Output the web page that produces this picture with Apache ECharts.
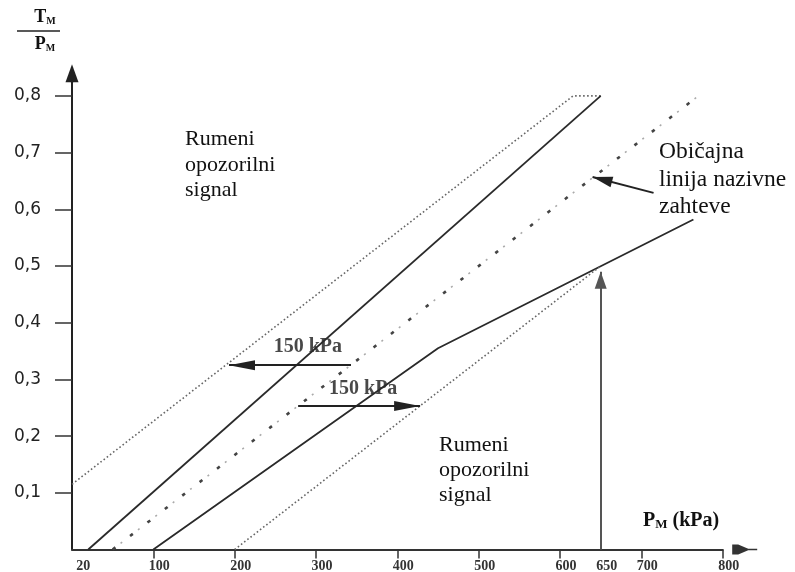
<!DOCTYPE html>
<html>
<head>
<meta charset="utf-8">
<script src="https://cdn.jsdelivr.net/npm/echarts@6/dist/echarts.min.js"></script>
<style>
  html, body { margin: 0; padding: 0; background: #fff; }
  #chart { width: 795px; height: 572px; }
</style>
</head>
<body>
<div id="chart"></div>
<script>
// Pressure axis P_M (kPa)
const xTickValues = [100, 200, 300, 400, 500, 600, 700, 800];
const xLabelValues = [20, 100, 200, 300, 400, 500, 600, 650, 700, 800];
// Ratio axis T_M / P_M
const yTickValues = [0.1, 0.2, 0.3, 0.4, 0.5, 0.6, 0.7, 0.8];
const yLabelValues = [0.1, 0.2, 0.3, 0.4, 0.5, 0.6, 0.7, 0.8];

// Boundary lines [P_M, T_M/P_M]
const upperDotted = [[0, 0.115], [616, 0.8], [650, 0.8]];
const upperSolid = [[20, 0], [650, 0.8]];
const nominalLine = [[50, 0], [770, 0.8]];
const lowerSolid = [[100, 0], [450, 0.355], [764, 0.582]];
const lowerDotted = [[200, 0], [650, 0.5]];

// Arrows: [tail, head]
const shiftLeftArrow = [[343, 0.325], [193, 0.325]];
const shiftRightArrow = [[278, 0.253], [428, 0.253]];
const ratedArrow = [[650, 0], [650, 0.49]];
const calloutArrow = [[715, 0.629], [640, 0.657]];

// "150 kPa" captions
const shiftLabelPoints = [[290, 0.358], [358, 0.283]];
const shiftText = '150 kPa';

const serif = '"Liberation Serif", "Times New Roman", serif';
const ink = '#222';

const chart = echarts.init(document.getElementById('chart'), null, { renderer: 'canvas' });

// Tail has no symbol; head is a triangle whose tip sits on the end coordinate
function arrowPair(pair, size) {
  return [
    { coord: pair[0], symbol: 'none' },
    { coord: pair[1], symbol: 'triangle', symbolSize: size, symbolOffset: [0, size[1] / 2] }
  ];
}

chart.setOption({
  animation: false,
  backgroundColor: '#fff',
  grid: {
    left: 72, right: 72.3, top: 82.3, bottom: 22.5,
    containLabel: false,
    outerBoundsMode: 'none'
  },
  xAxis: {
    type: 'value',
    min: 0,
    max: 800,
    splitLine: { show: false },
    axisLine: {
      show: true,
      onZero: false,
      lineStyle: { color: '#333', width: 2 },
      symbol: ['none', 'path://M4.2,0 L5.8,0 L5.8,9 L10,19 L10,25 L0,25 L0,19 L4.2,9 Z'],
      symbolSize: [10, 25],
      symbolOffset: [0, 22]
    },
    axisTick: {
      show: true,
      customValues: xTickValues,
      length: 9,
      lineStyle: { color: '#333', width: 1.5 }
    },
    axisLabel: {
      show: true,
      customValues: xLabelValues,
      margin: 10,
      padding: [0, 0, 0, 12],
      fontFamily: serif,
      fontWeight: 'bold',
      fontSize: 14,
      color: '#333',
      formatter: function (v) { return v === 20 ? '{s|20}' : String(v); },
      rich: {
        s: { fontFamily: serif, fontWeight: 'bold', fontSize: 14, color: '#333', padding: [0, 22, 0, 0] }
      }
    }
  },
  yAxis: {
    type: 'value',
    min: 0,
    max: 0.824,
    splitLine: { show: false },
    axisLine: {
      show: true,
      onZero: false,
      lineStyle: { color: '#222', width: 2 },
      symbol: ['none', 'triangle'],
      symbolSize: [13, 18],
      symbolOffset: [0, 9]
    },
    axisTick: {
      show: true,
      customValues: yTickValues,
      length: 17,
      lineStyle: { color: '#333', width: 1.5 }
    },
    axisLabel: {
      show: true,
      customValues: yLabelValues,
      margin: 31,
      padding: [0, 0, 40, 0],
      fontFamily: '"DejaVu Sans", sans-serif',
      fontSize: 17,
      color: ink,
      formatter: function (v) { return v.toFixed(1).replace('.', ','); }
    }
  },
  series: [
    {
      name: 'upperDotted', type: 'line', data: upperDotted, showSymbol: false, silent: true,
      lineStyle: { color: '#666', width: 1.6, type: [1.6, 2.4] }
    },
    {
      name: 'upperSolid', type: 'line', data: upperSolid, showSymbol: false, silent: true,
      lineStyle: { color: '#2a2a2a', width: 1.8 }
    },
    {
      name: 'nominalDark', type: 'line', data: nominalLine, showSymbol: false, silent: true,
      lineStyle: { color: '#444', width: 2.6, type: [3.5, 18.5] }
    },
    {
      name: 'nominalLight', type: 'line', data: nominalLine, showSymbol: false, silent: true,
      lineStyle: { color: '#aaa', width: 1.6, type: [2, 20], dashOffset: -10 }
    },
    {
      name: 'lowerSolid', type: 'line', data: lowerSolid, showSymbol: false, silent: true,
      lineStyle: { color: '#2a2a2a', width: 1.8 }
    },
    {
      name: 'lowerDotted', type: 'line', data: lowerDotted, showSymbol: false, silent: true,
      lineStyle: { color: '#666', width: 1.6, type: [1.6, 2.4] }
    },
    {
      name: 'arrows', type: 'line', data: [], silent: true,
      markLine: {
        silent: true,
        animation: false,
        label: { show: false },
        lineStyle: { color: ink, width: 2, type: 'solid' },
        symbol: ['none', 'triangle'],
        data: [
          arrowPair(shiftLeftArrow, [10, 26]),
          arrowPair(shiftRightArrow, [10, 26]),
          arrowPair(calloutArrow, [11, 20])
        ]
      }
    },
    {
      name: 'ratedArrow', type: 'line', data: [], silent: true,
      markLine: {
        silent: true,
        animation: false,
        label: { show: false },
        lineStyle: { color: '#555', width: 2, type: 'solid' },
        symbol: ['none', 'triangle'],
        data: [arrowPair(ratedArrow, [12, 17])]
      }
    },
    {
      name: 'shiftLabels', type: 'scatter', data: shiftLabelPoints, symbolSize: 0, silent: true,
      label: {
        show: true, position: 'inside', formatter: shiftText,
        fontFamily: serif, fontWeight: 'bold', fontSize: 20, color: '#1a1a1a'
      }
    }
  ],
  graphic: [
    {
      type: 'text', left: 185, top: 126.5, silent: true,
      style: { text: 'Rumeni\nopozorilni\nsignal', fontFamily: serif, fontSize: 22, lineHeight: 25.5, fill: '#111' }
    },
    {
      type: 'text', left: 439, top: 433, silent: true,
      style: { text: 'Rumeni\nopozorilni\nsignal', fontFamily: serif, fontSize: 22, lineHeight: 25, fill: '#111' }
    },
    {
      type: 'text', left: 659, top: 138.3, silent: true,
      style: { text: 'Običajna\nlinija nazivne\nzahteve', fontFamily: serif, fontSize: 23.5, lineHeight: 27.5, fill: '#111' }
    },
    {
      type: 'text', left: 643, top: 511, silent: true,
      style: {
        text: '{b|P}{s|M}{b| (kPa)}',
        rich: {
          b: { fontFamily: serif, fontWeight: 'bold', fontSize: 20, fill: '#111', verticalAlign: 'bottom' },
          s: { fontFamily: serif, fontWeight: 'bold', fontSize: 13, fill: '#111', verticalAlign: 'bottom' }
        }
      }
    },
    {
      type: 'text', x: 45, y: 8, silent: true,
      style: {
        text: '{b|T}{s|M}', align: 'center',
        rich: {
          b: { fontFamily: serif, fontWeight: 'bold', fontSize: 18, fill: '#111', verticalAlign: 'bottom' },
          s: { fontFamily: serif, fontWeight: 'bold', fontSize: 10, fill: '#111', verticalAlign: 'bottom' }
        }
      }
    },
    {
      type: 'line', silent: true,
      shape: { x1: 17, y1: 31, x2: 60, y2: 31 },
      style: { stroke: '#222', lineWidth: 1.6 }
    },
    {
      type: 'text', x: 45, y: 35, silent: true,
      style: {
        text: '{b|P}{s|M}', align: 'center',
        rich: {
          b: { fontFamily: serif, fontWeight: 'bold', fontSize: 18, fill: '#111', verticalAlign: 'bottom' },
          s: { fontFamily: serif, fontWeight: 'bold', fontSize: 10, fill: '#111', verticalAlign: 'bottom' }
        }
      }
    }
  ]
});
</script>
</body>
</html>
